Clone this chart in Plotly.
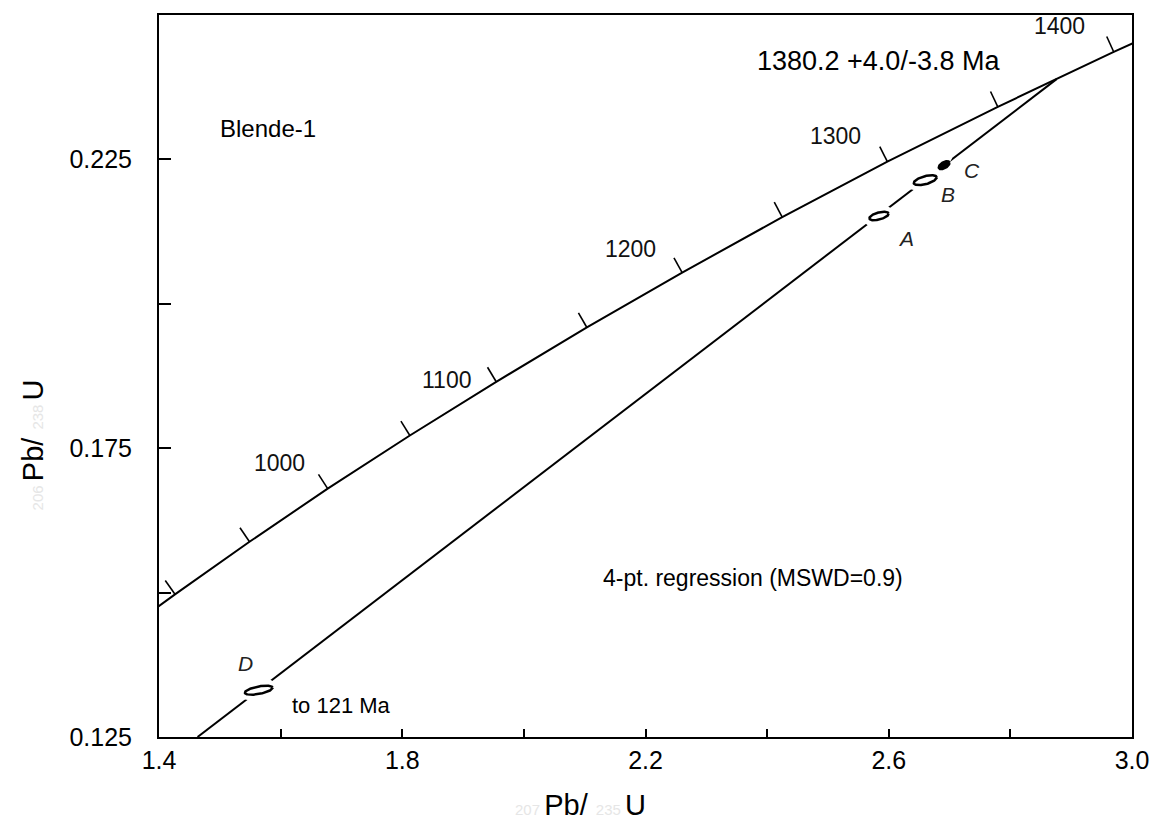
import numpy as np
import plotly.graph_objects as go

# ---------------- data ----------------
# Concordia points (207Pb/235U, 206Pb/238U) at ages in Ma, as drawn in the figure
conc_age = [850, 900, 950, 1000, 1050, 1100, 1150, 1200, 1250, 1300, 1350, 1400, 1450]
conc_x = [1.3097, 1.4263, 1.5488, 1.6774, 1.8125, 1.9545, 2.1036, 2.2603, 2.4248,
          2.5977, 2.7793, 2.9700, 3.1704]
conc_y = [0.14075, 0.14970, 0.15880, 0.16800, 0.17720, 0.18650, 0.19590, 0.20540,
          0.21500, 0.22460, 0.23410, 0.24360, 0.25320]
tick_ages = [900, 950, 1000, 1050, 1100, 1150, 1200, 1250, 1300, 1350, 1400]
label_ages = [1000, 1100, 1200, 1300, 1400]

# Discordia: from where it leaves the frame up to the upper intercept (1380.2 Ma)
disc_x = [1.4634, 2.876]
disc_y = [0.125, 0.2389]

# Analysed fractions (error ellipses)
spot_name = ["A", "B", "C", "D"]
spot_x = [2.584, 2.660, 2.691, 1.564]
spot_y = [0.2152, 0.2214, 0.2240, 0.1331]
spot_sx = [0.0158, 0.0189, 0.0088, 0.0228]
spot_sy = [0.00074, 0.00086, 0.00069, 0.00078]
spot_rho = [0.53, 0.56, 0.54, 0.54]
spot_filled = [False, False, True, False]

x_ticks = [1.4, 1.6, 1.8, 2.0, 2.2, 2.4, 2.6, 2.8, 3.0]
x_ticktext = ["1.4", "", "1.8", "", "2.2", "", "2.6", "", "3.0"]
y_ticks = [0.125, 0.15, 0.175, 0.2, 0.225, 0.25]
y_ticktext = ["0.125", "", "0.175", "", "0.225", ""]

# ---------------- layout geometry ----------------
W, H = 1161, 836
ML, MR, MT, MB = 159, 18, 15, 99
XR = [1.4, 3.0]
YR = [0.125, 0.25]
pw, ph = W - ML - MR, H - MT - MB
kx = pw / (XR[1] - XR[0])   # px per x unit
ky = ph / (YR[1] - YR[0])   # px per y unit

FONT = "Liberation Sans, Arial, Helvetica, sans-serif"

fig = go.Figure()

# concordia
fig.add_trace(go.Scatter(x=conc_x, y=conc_y, mode="lines",
                         line=dict(color="black", width=2), hoverinfo="skip"))

# concordia age ticks (perpendicular in screen space)
tx, ty = [], []
for a in tick_ages:
    i = conc_age.index(a)
    dxp = (conc_x[i + 1] - conc_x[i - 1]) * kx
    dyp = (conc_y[i + 1] - conc_y[i - 1]) * ky
    n = np.hypot(dxp, dyp)
    nx, ny = -dyp / n, dxp / n      # normal pointing up-left on screen
    L = 17
    tx += [conc_x[i], conc_x[i] + nx * L / kx, None]
    ty += [conc_y[i], conc_y[i] + ny * L / ky, None]
fig.add_trace(go.Scatter(x=tx, y=ty, mode="lines",
                         line=dict(color="black", width=1.6), hoverinfo="skip"))

# discordia
fig.add_trace(go.Scatter(x=disc_x, y=disc_y, mode="lines",
                         line=dict(color="black", width=2), hoverinfo="skip"))

# ellipses
t = np.linspace(0, 2 * np.pi, 120)
for cx, cy, sx, sy, r in zip(spot_x, spot_y, spot_sx, spot_sy, spot_rho):
    ex = cx + sx * np.cos(t)
    ey = cy + sy * (r * np.cos(t) + np.sqrt(1 - r * r) * np.sin(t))
    # white halo that breaks the regression line around each ellipse
    fig.add_trace(go.Scatter(x=ex, y=ey, mode="lines", fill="toself", fillcolor="white",
                             line=dict(color="white", width=12), hoverinfo="skip"))
for cx, cy, sx, sy, r, filled in zip(spot_x, spot_y, spot_sx, spot_sy, spot_rho, spot_filled):
    ex = cx + sx * np.cos(t)
    ey = cy + sy * (r * np.cos(t) + np.sqrt(1 - r * r) * np.sin(t))
    fig.add_trace(go.Scatter(x=ex, y=ey, mode="lines", fill="toself",
                             fillcolor="black" if filled else "white",
                             line=dict(color="black", width=2.5), hoverinfo="skip"))

ann = []
# age labels on concordia
label_shift = {1000: (-48, 26), 1100: (-50, 2), 1200: (-52, 24), 1300: (-52, 26), 1400: (-54, 26)}
for a in label_ages:
    i = conc_age.index(a)
    xs, ys = label_shift[a]
    ann.append(dict(x=conc_x[i], y=conc_y[i], text=str(a), showarrow=False,
                    xshift=xs, yshift=ys, font=dict(size=23, color="#111", family=FONT)))

# spot labels
spot_shift = {"A": (27, -22), "B": (23, -14), "C": (28, -5), "D": (-13, 27)}
for nm, cx, cy in zip(spot_name, spot_x, spot_y):
    sx_, sy_ = spot_shift[nm]
    ann.append(dict(x=cx, y=cy, text="<i>" + nm + "</i>", showarrow=False,
                    xshift=sx_, yshift=sy_, font=dict(size=21, color="#222", family=FONT)))

SUP = '<span style="color:#e6e6e6;font-size:15px">%s</span>'
ann += [
    dict(x=1.580, y=0.2304, text="Blende-1", showarrow=False,
         font=dict(size=24, color="black", family=FONT)),
    dict(x=2.787, y=0.2420, text="1380.2 +4.0/-3.8 Ma", showarrow=False, xanchor="right",
         font=dict(size=27, color="black", family=FONT)),
    dict(x=2.377, y=0.1525, text="4-pt. regression (MSWD=0.9)", showarrow=False,
         font=dict(size=23, color="black", family=FONT)),
    dict(x=1.616, y=0.1304, text="to 121 Ma", showarrow=False, xanchor="left",
         font=dict(size=22, color="black", family=FONT)),
    # axis titles
    dict(xref="paper", yref="paper", x=(585 - ML) / pw, y=-(805 - MT - ph) / ph,
         yanchor="middle",
         text=(SUP % "207 ") + "Pb/ " + (SUP % "235 ") + "U",
         showarrow=False, font=dict(size=29, color="black", family=FONT)),
    dict(xref="paper", yref="paper", x=(32 - ML) / pw, y=1 - (445 - MT) / ph,
         xanchor="center",
         text=(SUP % "206 ") + "Pb/ " + (SUP % "238 ") + "U",
         showarrow=False, textangle=-90, font=dict(size=29, color="black", family=FONT)),
]

fig.update_layout(
    width=W, height=H, autosize=False,
    margin=dict(l=ML, r=MR, t=MT, b=MB),
    paper_bgcolor="white", plot_bgcolor="white",
    showlegend=False,
    annotations=ann,
    font=dict(family=FONT, color="black"),
)
fig.update_xaxes(range=XR, tickvals=x_ticks, ticktext=x_ticktext, ticks="inside",
                 ticklen=8, tickwidth=1.5, tickcolor="black", showline=True, linewidth=2,
                 linecolor="black", mirror=True, showgrid=False, zeroline=False,
                 tickfont=dict(size=25, family=FONT, color="black"))
fig.update_yaxes(range=YR, tickvals=y_ticks, ticktext=y_ticktext, ticks="inside",
                 ticklen=12, tickwidth=1.5, tickcolor="black", showline=True, linewidth=2,
                 linecolor="black", mirror=True, showgrid=False, zeroline=False,
                 ticklabelstandoff=20,
                 tickfont=dict(size=25, family=FONT, color="black"))

fig.write_html("out.html")
